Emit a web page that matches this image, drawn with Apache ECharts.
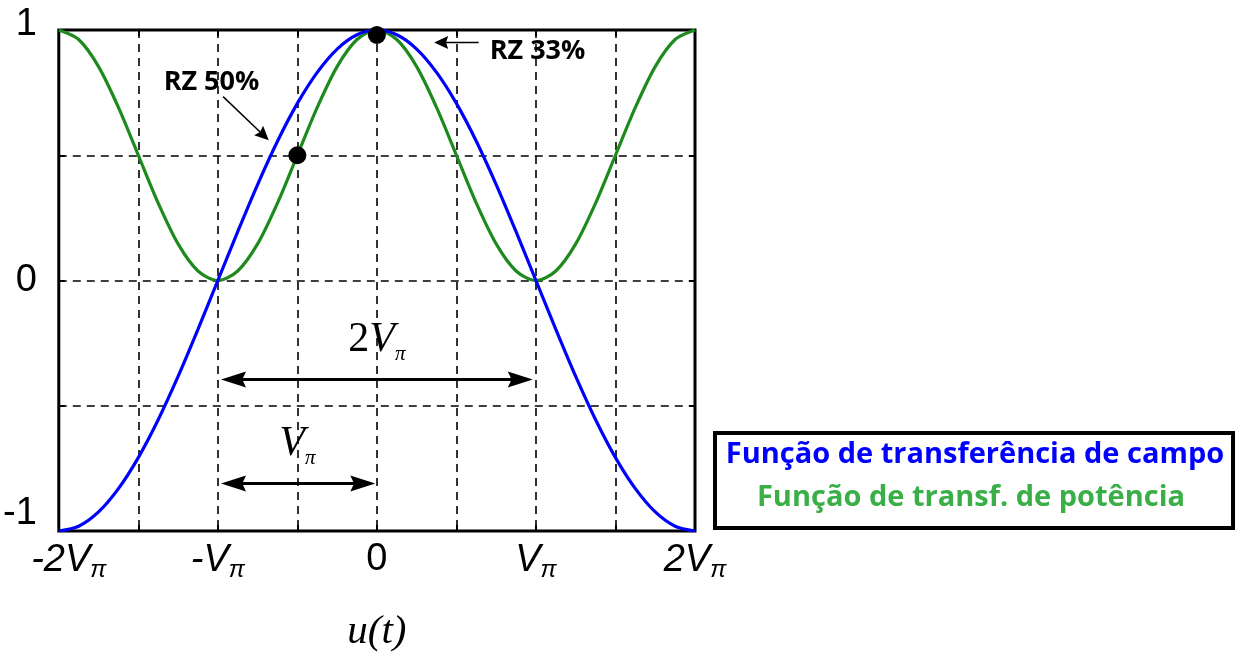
<!DOCTYPE html>
<html>
<head>
<meta charset="utf-8">
<script src="https://cdn.jsdelivr.net/npm/echarts@6/dist/echarts.min.js"></script>
<style>
  html, body { margin: 0; padding: 0; background: #fff; }
  #chart { width: 1238px; height: 655px; }
</style>
</head>
<body>
<div id="chart"></div>
<script>
// Drive voltage u(t), expressed in units of V_pi
const uValues = [-2, -1.875, -1.75, -1.625, -1.5, -1.375, -1.25, -1.125, -1,
  -0.875, -0.75, -0.625, -0.5, -0.375, -0.25, -0.125, 0,
  0.125, 0.25, 0.375, 0.5, 0.625, 0.75, 0.875, 1,
  1.125, 1.25, 1.375, 1.5, 1.625, 1.75, 1.875, 2];

// Field (E-field) transfer of the modulator
const fieldTransfer = [-1, -0.981, -0.924, -0.831, -0.707, -0.556, -0.383, -0.195, 0,
  0.195, 0.383, 0.556, 0.707, 0.831, 0.924, 0.981, 1,
  0.981, 0.924, 0.831, 0.707, 0.556, 0.383, 0.195, 0,
  -0.195, -0.383, -0.556, -0.707, -0.831, -0.924, -0.981, -1];

// Optical power transfer of the modulator
const powerTransfer = [1, 0.962, 0.854, 0.691, 0.5, 0.309, 0.146, 0.038, 0,
  0.038, 0.146, 0.309, 0.5, 0.691, 0.854, 0.962, 1,
  0.962, 0.854, 0.691, 0.5, 0.309, 0.146, 0.038, 0,
  0.038, 0.146, 0.309, 0.5, 0.691, 0.854, 0.962, 1];

// Bias points for the RZ 33% and RZ 50% formats
const biasPoints = [[0, 0.98], [-0.5, 0.5]];

// Tick labels
const xTickLabels = { '-2': '{f|-2V}{s|π}', '-1': '{n|-V}{s|π}', '0': '{z|0}', '1': '{n|V}{s|π}', '2': '{n|2V}{s|π}' };
const yTickLabels = { '1': '{a|1}', '0': '{c|0}', '-1': '{b|-1}' };

// Legend entries
const legendNames = ['Função de transferência de campo', 'Função de transf. de potência'];

const BLUE = '#0000ff';
const GREEN = '#1e8a1e';
const LEGEND_GREEN = '#3aaf48';

const chart = echarts.init(document.getElementById('chart'), null, { renderer: 'canvas' });

const tickStyle = { show: true, inside: true, length: 6, lineStyle: { color: '#000', width: 2 } };
const sansItalic = { fontFamily: 'Liberation Sans', fontStyle: 'italic', color: '#000' };
const dashed = { show: true, lineStyle: { color: '#000', width: 1.6, type: [8, 6] } };

chart.setOption({
  animation: false,
  backgroundColor: '#fff',
  grid: { left: 57, right: 543, top: 30, bottom: 124, show: true, borderColor: '#000', borderWidth: 3 },
  xAxis: [{
    type: 'value', min: -2, max: 2, interval: 0.5,
    axisLine: { show: false, onZero: false },
    axisTick: tickStyle,
    splitLine: dashed,
    axisLabel: {
      margin: 7,
      formatter: v => xTickLabels[String(v)] || '',
      rich: {
        n: Object.assign({ fontSize: 38, lineHeight: 44 }, sansItalic),
        f: Object.assign({ fontSize: 38, lineHeight: 44, padding: [0, 0, 0, 20] }, sansItalic),
        s: Object.assign({ fontSize: 24, lineHeight: 12, verticalAlign: 'bottom' }, sansItalic),
        z: { fontFamily: 'Liberation Sans', fontSize: 38, lineHeight: 44, color: '#000' }
      }
    }
  }, {
    type: 'value', position: 'top', min: -2, max: 2, interval: 0.5,
    axisLine: { show: false, onZero: false }, axisTick: tickStyle, splitLine: { show: false }, axisLabel: { show: false }
  }],
  yAxis: [{
    type: 'value', min: -1, max: 1, interval: 0.5,
    axisLine: { show: false, onZero: false },
    axisTick: tickStyle,
    splitLine: dashed,
    axisLabel: {
      margin: 22,
      formatter: v => yTickLabels[String(v)] || '',
      rich: {
        a: { fontFamily: 'Liberation Sans', fontSize: 38, color: '#000', padding: [0, 0, 10, 0] },
        b: { fontFamily: 'Liberation Sans', fontSize: 38, color: '#000', padding: [0, 0, 34, 0] },
        c: { fontFamily: 'Liberation Sans', fontSize: 38, color: '#000' }
      }
    }
  }, {
    type: 'value', position: 'right', min: -1, max: 1, interval: 0.5,
    axisLine: { show: false, onZero: false }, axisTick: tickStyle, splitLine: { show: false }, axisLabel: { show: false }
  }],
  series: [
    {
      name: legendNames[1], type: 'line', showSymbol: false, smooth: 0.3, z: 3,
      data: uValues.map((u, i) => [u, powerTransfer[i]]),
      lineStyle: { color: GREEN, width: 3.2 }, itemStyle: { color: GREEN }
    },
    {
      name: legendNames[0], type: 'line', showSymbol: false, smooth: 0.3, z: 4,
      data: uValues.map((u, i) => [u, fieldTransfer[i]]),
      lineStyle: { color: BLUE, width: 3.2 }, itemStyle: { color: BLUE }
    },
    {
      type: 'scatter', symbolSize: 18, z: 6, data: biasPoints,
      itemStyle: { color: '#000', opacity: 1 }
    }
  ]
});

// Annotations, placed in data coordinates and converted to pixels
const P = (x, y) => chart.convertToPixel({ gridIndex: 0 }, [x, y]);

function arrow(p0, p1, opt) {
  const dx = p1[0] - p0[0], dy = p1[1] - p0[1];
  const len = Math.hypot(dx, dy), ux = dx / len, uy = dy / len;
  const nx = -uy, ny = ux;
  const L = opt.head, W = opt.width / 2;
  const els = [];
  const head = (tip, dir) => ({
    type: 'polygon', z: 20,
    shape: { points: [
      tip,
      [tip[0] - dir * ux * L + nx * W, tip[1] - dir * uy * L + ny * W],
      [tip[0] - dir * ux * L * 0.85, tip[1] - dir * uy * L * 0.85],
      [tip[0] - dir * ux * L - nx * W, tip[1] - dir * uy * L - ny * W]
    ] },
    style: { fill: '#000' }
  });
  const s = opt.both ? [p0[0] + ux * L * 0.8, p0[1] + uy * L * 0.8] : p0;
  const e = [p1[0] - ux * L * 0.8, p1[1] - uy * L * 0.8];
  els.push({ type: 'line', z: 19, shape: { x1: s[0], y1: s[1], x2: e[0], y2: e[1] },
    style: { stroke: '#000', lineWidth: opt.lw } });
  els.push(head(p1, 1));
  if (opt.both) els.push(head(p0, -1));
  return els;
}

function drawAnnotations() {
  const g = [];
  g.push(...arrow(P(-0.98, -0.395), P(0.98, -0.395), { head: 25, width: 16, lw: 3, both: true }));
  g.push(...arrow(P(-0.98, -0.81), P(-0.01, -0.81), { head: 25, width: 16, lw: 3, both: true }));
  g.push(...arrow(P(-0.967, 0.734), P(-0.68, 0.56), { head: 14, width: 13, lw: 1.5 }));
  g.push(...arrow(P(0.64, 0.95), P(0.36, 0.95), { head: 14, width: 13, lw: 1.5 }));

  const serif = {
    m: { fontFamily: 'Liberation Serif', fontSize: 42, lineHeight: 50, color: '#000' },
    i: { fontFamily: 'Liberation Serif', fontStyle: 'italic', fontSize: 42, lineHeight: 50, color: '#000' },
    s: { fontFamily: 'Liberation Serif', fontStyle: 'italic', fontSize: 21, lineHeight: 20, verticalAlign: 'bottom', color: '#000' }
  };
  const p2 = P(0, -0.236);
  g.push({ type: 'text', z: 21, x: p2[0], y: p2[1],
    style: { text: '{m|2}{i|V}{s|π}', rich: serif, align: 'center', verticalAlign: 'middle' } });
  const p1 = P(-0.5, -0.651);
  g.push({ type: 'text', z: 21, x: p1[0], y: p1[1],
    style: { text: '{i|V}{s|π}', rich: serif, align: 'center', verticalAlign: 'middle' } });

  const rz = { fontFamily: 'Open Sans', fontWeight: 'bold', fontSize: 27 };
  const r50 = P(-1.04, 0.79);
  g.push({ type: 'text', z: 21, x: r50[0], y: r50[1],
    style: Object.assign({ text: 'RZ 50%', fill: '#000', align: 'center', verticalAlign: 'middle' }, rz) });
  const r33 = P(1.01, 0.915);
  g.push({ type: 'text', z: 21, x: r33[0], y: r33[1],
    style: Object.assign({ text: 'RZ 33%', fill: '#000', align: 'center', verticalAlign: 'middle' }, rz) });

  // axis name u(t)
  const pu = P(0, -1);
  g.push({ type: 'text', z: 21, x: pu[0], y: 632,
    style: { text: 'u(t)', fontFamily: 'Liberation Serif', fontStyle: 'italic', fontSize: 41,
      fill: '#000', align: 'center', verticalAlign: 'middle' } });

  // legend box
  g.push({ type: 'rect', z: 21, shape: { x: 715, y: 433, width: 518, height: 95 },
    style: { fill: '#fff', stroke: '#000', lineWidth: 4 } });
  g.push({ type: 'text', z: 22, x: 975, y: 455,
    style: { text: legendNames[0], fill: BLUE, fontFamily: 'Open Sans', fontWeight: 'bold', fontSize: 29,
      align: 'center', verticalAlign: 'middle' } });
  g.push({ type: 'text', z: 22, x: 971, y: 498,
    style: { text: legendNames[1], fill: LEGEND_GREEN, fontFamily: 'Open Sans', fontWeight: 'bold', fontSize: 29,
      align: 'center', verticalAlign: 'middle' } });

  chart.setOption({ graphic: { elements: g } });
}
drawAnnotations();
</script>
</body>
</html>
